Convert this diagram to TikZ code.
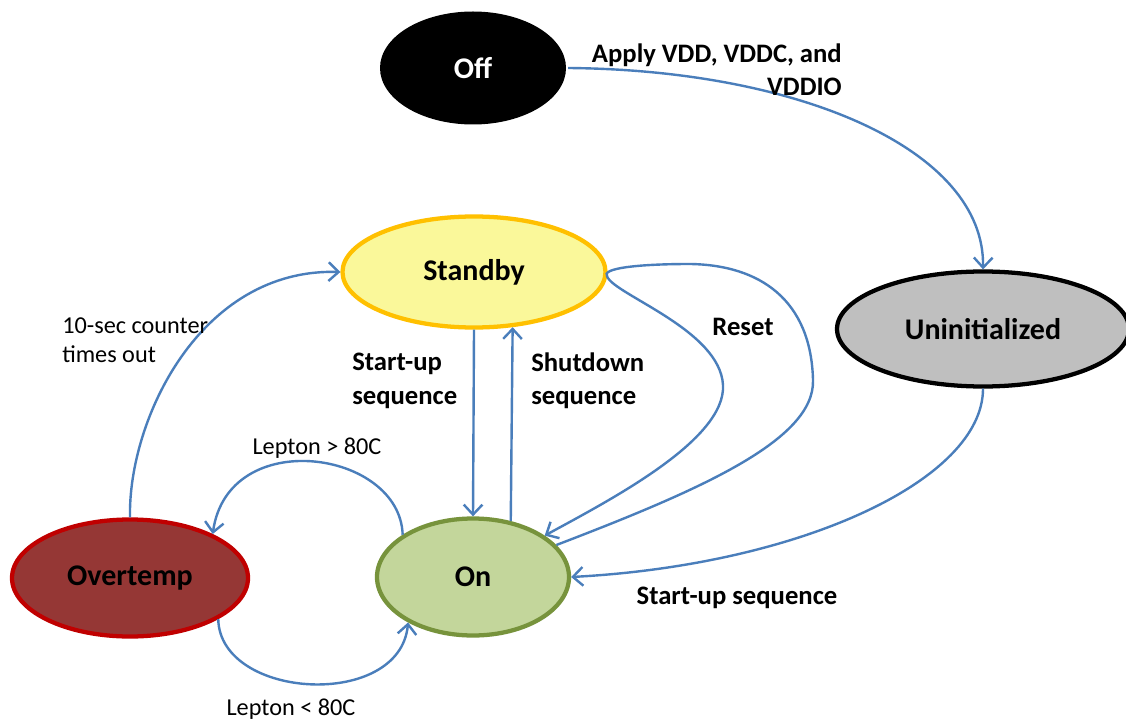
\documentclass[tikz,border=0pt]{standalone}
\usepackage{fontspec}
\setmainfont{Carlito}
\usetikzlibrary{shapes.geometric,arrows.meta}
\definecolor{edgeblue}{HTML}{4A7EBB}
\definecolor{sbfill}{HTML}{FAF89A}
\definecolor{sbdraw}{HTML}{FFC000}
\definecolor{unfill}{HTML}{BFBFBF}
\definecolor{otfill}{HTML}{953735}
\definecolor{otdraw}{HTML}{C00000}
\definecolor{onfill}{HTML}{C3D69B}
\definecolor{ondraw}{HTML}{77933C}
\tikzset{
  state/.style={ellipse, inner sep=0pt, line width=3.2pt, font=\fontsize{22.5}{27}\selectfont\bfseries},
  conn/.style={draw=edgeblue, line width=1.8pt},
  arr/.style={conn, -{Straight Barb[length=7.5pt,width=14pt,line width=1.8pt]}},
  blabel/.style={font=\fontsize{20}{25}\selectfont\bfseries, inner sep=0pt},
  rlabel/.style={font=\fontsize{18.2}{22}\selectfont, inner sep=0pt},
}
\begin{document}
\begin{tikzpicture}[x=0.75pt,y=-0.75pt]
\clip (0,0) rectangle (1126,723);
\fill[white] (0,0) rectangle (1126,723);

\node[state, fill=black, text=white, minimum width=139.5pt, minimum height=84.75pt] (off) at (473,68) {Off};
\node[state, fill=sbfill, draw=sbdraw, minimum width=197.25pt, minimum height=83.25pt] (st) at (474,272) {Standby};
\node[state, fill=unfill, draw=black, minimum width=219pt, minimum height=86.25pt] (un) at (983,329) {Uninitialized};
\node[state, fill=otfill, draw=otdraw, minimum width=177pt, minimum height=87.75pt] (ot) at (130,578) {Overtemp};
\node[state, fill=onfill, draw=ondraw, minimum width=144pt, minimum height=87.75pt] (on) at (473,577) {On};

% Off -> Uninitialized
\draw[arr] (off.east) .. controls (800,70) and (985,150) .. (un.north);
% Standby -> On
\draw[arr] (st.south) -- (on.north);
% On -> Standby
\draw[arr] (on.56.3) -- (st.-55.8);
% Reset loop
\draw[arr] (on.21) .. controls (700,490) and (815,440) .. (813,380)
  .. controls (811,300) and (760,265) .. (690,264)
  .. controls (640,264) and (600,268) .. (st.-2)
  .. controls (615,295) and (720,330) .. (723,385)
  .. controls (726,440) and (610,500) .. (on.30);
% Uninitialized -> On
\draw[arr] (un.south) .. controls (983,480) and (800,565) .. (on.east);
% Overtemp -> Standby
\draw[arr] (ot.north) .. controls (128,420) and (200,268) .. (st.west);
% On -> Overtemp
\draw[arr] (on.149) .. controls (400,450) and (228,425) .. (ot.28);
% Overtemp -> On
\draw[arr] (ot.-25) .. controls (220,700) and (400,710) .. (on.-145);

% labels
\node[blabel, align=right, anchor=east] (lapply) at (842,70) {Apply VDD, VDDC, and\\VDDIO};
\node[rlabel, align=left, anchor=west] (lten) at (62,340) {10-sec counter\\times out};
\node[blabel, align=left, anchor=west] (lsu) at (352,381) {Start-up\\sequence};
\node[blabel, align=left, anchor=west] (lsd) at (531,381) {Shutdown\\sequence};
\node[blabel] (lreset) at (743,327) {Reset};
\node[blabel] (lsu2) at (737,598) {Start-up sequence};
\node[rlabel] (lgt) at (317,448) {Lepton > 80C};
\node[rlabel] (llt) at (291,709) {Lepton < 80C};
\end{tikzpicture}
\end{document}
